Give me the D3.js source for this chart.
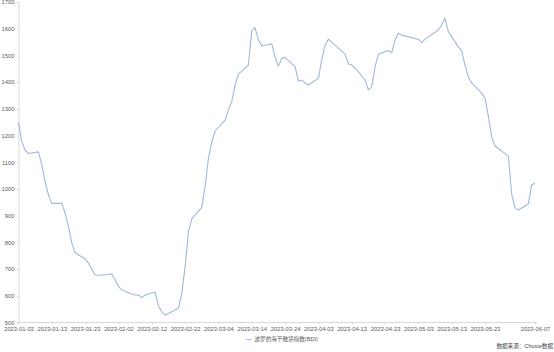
<!DOCTYPE html>
<html><head><meta charset="utf-8">
<script src="https://cdn.jsdelivr.net/npm/d3@7"></script>
<style>body{margin:0;background:#fff}svg{display:block}</style>
</head><body><svg id="c" width="554" height="352"></svg>
<script>
const dates = [
"2023-01-03","2023-01-04","2023-01-05","2023-01-06","2023-01-09","2023-01-10","2023-01-11","2023-01-12","2023-01-13",
"2023-01-16","2023-01-17","2023-01-18","2023-01-19","2023-01-20","2023-01-23","2023-01-24","2023-01-25","2023-01-26","2023-01-27",
"2023-01-30","2023-01-31","2023-02-01","2023-02-02","2023-02-03","2023-02-06","2023-02-07","2023-02-08","2023-02-09","2023-02-10",
"2023-02-13","2023-02-14","2023-02-15","2023-02-16","2023-02-17","2023-02-20","2023-02-21","2023-02-22","2023-02-23","2023-02-24",
"2023-02-27","2023-02-28","2023-03-01","2023-03-02","2023-03-03","2023-03-06","2023-03-07","2023-03-08","2023-03-09","2023-03-10",
"2023-03-13","2023-03-14","2023-03-15","2023-03-16","2023-03-17","2023-03-20","2023-03-21","2023-03-22","2023-03-23","2023-03-24",
"2023-03-27","2023-03-28","2023-03-29","2023-03-30","2023-03-31","2023-04-03","2023-04-04","2023-04-05","2023-04-06",
"2023-04-11","2023-04-12","2023-04-13","2023-04-14","2023-04-17","2023-04-18","2023-04-19","2023-04-20","2023-04-21",
"2023-04-24","2023-04-25","2023-04-26","2023-04-27","2023-04-28","2023-05-02","2023-05-03","2023-05-04","2023-05-05",
"2023-05-09","2023-05-10","2023-05-11","2023-05-12","2023-05-15","2023-05-16","2023-05-17","2023-05-18","2023-05-19",
"2023-05-22","2023-05-23","2023-05-24","2023-05-25","2023-05-26","2023-05-30","2023-05-31","2023-06-01","2023-06-02",
"2023-06-05","2023-06-06","2023-06-07"];
const values = [
1250,1177,1145,1133,1139,1090,1027,977,946,
946,909,859,797,761,738,722,699,678,677,
680,682,659,634,622,607,603,603,593,603,
614,562,540,528,534,553,609,709,839,888,
931,1010,1115,1175,1217,1258,1296,1327,1389,1430,
1464,1593,1604,1558,1536,1543,1494,1460,1489,1492,
1458,1404,1407,1397,1389,1414,1483,1539,1561,
1505,1468,1464,1453,1408,1371,1382,1457,1505,
1518,1510,1558,1583,1576,1563,1560,1548,1561,
1595,1614,1639,1589,1532,1517,1464,1419,1397,
1359,1341,1273,1195,1161,1123,980,930,921,
944,1015,1021];
const yTicks = [500,600,700,800,900,1000,1100,1200,1300,1400,1500,1600,1700];
const xTickLabels = ["2023-01-03","2023-01-13","2023-01-23","2023-02-02","2023-02-12","2023-02-22","2023-03-04",
"2023-03-14","2023-03-24","2023-04-03","2023-04-13","2023-04-23","2023-05-03","2023-05-13","2023-05-23","2023-06-07"];
const seriesName = "波罗的海干散货指数(BDI)";
const sourceText = "数据来源：Choice数据";

const parse = d3.utcParse("%Y-%m-%d");
const data = dates.map((d,i)=>({date:parse(d), value:values[i]}));
const svg = d3.select("#c");
const font = "'Liberation Sans','Noto Sans CJK SC',sans-serif";
const textColor = "#595959";
const axisColor = "#d9d9d9";
const lineColor = "#9fb9da";

const x = d3.scaleUtc().domain([parse("2023-01-03"), parse("2023-06-07")]).range([18.5, 535]);
const y = d3.scaleLinear().domain([500,1700]).range([322.5, 2]);

// y axis
const gy = svg.append("g").attr("transform","translate(18.5,0)")
  .call(d3.axisLeft(y).tickValues(yTicks).tickSize(2).tickPadding(2).tickFormat(d3.format("d")));
gy.select(".domain").attr("stroke",axisColor);
gy.selectAll(".tick line").attr("stroke",axisColor);
gy.selectAll("text").attr("fill",textColor).attr("font-size","5.8px").attr("font-family",font);

// x axis
const gx = svg.append("g").attr("transform","translate(0,322.5)")
  .call(d3.axisBottom(x).tickValues(xTickLabels.map(parse)).tickSize(2).tickPadding(2).tickFormat(d3.utcFormat("%Y-%m-%d")));
gx.select(".domain").attr("stroke",axisColor).attr("d","M18.5,0H537");
gx.selectAll(".tick line").attr("stroke",axisColor);
gx.selectAll("text").attr("fill",textColor).attr("font-size","5.8px").attr("font-family",font);

// line
const line = d3.line().x(d=>x(d.date)).y(d=>y(d.value));
svg.append("path").datum(data).attr("d",line).attr("fill","none")
  .attr("stroke",lineColor).attr("stroke-width",1.1).attr("stroke-linejoin","round");

// legend
svg.append("line").attr("x1",246.5).attr("x2",251.5).attr("y1",339.5).attr("y2",339.5)
  .attr("stroke",lineColor).attr("stroke-width",1);
svg.append("text").attr("x",254.5).attr("y",339.5).attr("dy","0.35em").text(seriesName)
  .attr("fill",textColor).attr("font-size","5.6px").attr("font-family",font);

// source
svg.append("text").attr("x",553).attr("y",346.5).attr("dy","0.35em").attr("text-anchor","end").text(sourceText)
  .attr("fill","#404040").attr("font-size","5.6px").attr("font-family",font);
</script>
</body></html>
